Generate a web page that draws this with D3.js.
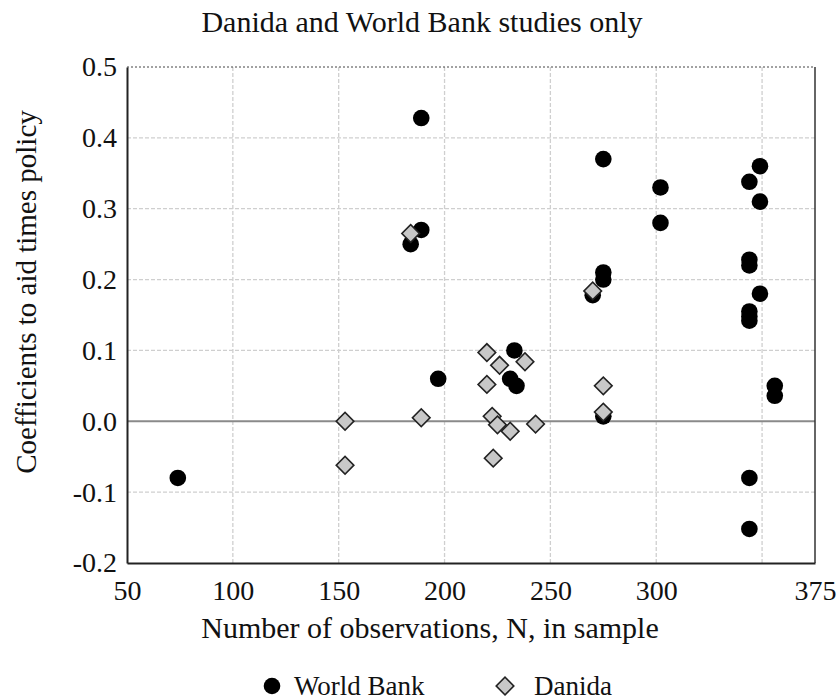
<!DOCTYPE html>
<html>
<head>
<meta charset="utf-8">
<script src="https://cdn.jsdelivr.net/npm/d3@7"></script>
<style>
  body { margin: 0; background: #fff; }
</style>
</head>
<body>
<div id="chart"></div>
<script>
// World Bank studies: N and coefficient
const worldBankN = [74, 184, 189, 189, 197, 231, 233, 234, 270, 275, 275, 275, 275, 302, 302,
  344, 349, 349, 344, 344, 349, 344, 344, 344, 356, 356, 344, 344];
const worldBankCoef = [-0.08, 0.25, 0.428, 0.27, 0.06, 0.06, 0.1, 0.05, 0.178, 0.37, 0.21, 0.2, 0.007, 0.33, 0.28,
  0.338, 0.36, 0.31, 0.228, 0.22, 0.18, 0.155, 0.148, 0.142, 0.05, 0.036, -0.08, -0.152];

// Danida studies
const danidaN = [153, 153, 184, 189, 220, 220, 222.5, 225, 223, 226, 231, 238, 243, 270, 275, 275];
const danidaCoef = [0.0, -0.062, 0.265, 0.005, 0.097, 0.052, 0.007, -0.005, -0.052, 0.079, -0.014, 0.084, -0.004, 0.184, 0.05, 0.013];

const xTicks = [50, 100, 150, 200, 250, 300, 375];
const xGrid = [100, 150, 200, 250, 300, 350];
const yTicks = [-0.2, -0.1, 0.0, 0.1, 0.2, 0.3, 0.4, 0.5];

const W = 840, H = 700;
const margin = { left: 127, right: 25, top: 67, bottom: 137 };
const FONT = '"Liberation Serif", "Times New Roman", serif';

const svg = d3.select('#chart').append('svg')
  .attr('width', W).attr('height', H);

const x = d3.scaleLinear().domain([50, 375]).range([margin.left, W - margin.right]);
const y = d3.scaleLinear().domain([-0.2, 0.5]).range([H - margin.bottom, margin.top]);

// grid
svg.append('g').selectAll('line')
  .data(xGrid).enter().append('line')
  .attr('x1', d => x(d)).attr('x2', d => x(d))
  .attr('y1', y(0.5)).attr('y2', y(-0.2))
  .attr('stroke', '#cfcfcf').attr('stroke-width', 1.3).attr('stroke-dasharray', '4,2');

svg.append('g').selectAll('line')
  .data(yTicks.filter(d => d > -0.2 && d < 0.5 && d !== 0)).enter().append('line')
  .attr('x1', x(50)).attr('x2', x(375))
  .attr('y1', d => y(d)).attr('y2', d => y(d))
  .attr('stroke', '#cfcfcf').attr('stroke-width', 1.3).attr('stroke-dasharray', '4,2');

// zero line
svg.append('line')
  .attr('x1', x(50)).attr('x2', x(375))
  .attr('y1', y(0)).attr('y2', y(0))
  .attr('stroke', '#8a8a8a').attr('stroke-width', 2);

// top border dotted, right border solid
svg.append('line')
  .attr('x1', x(50)).attr('x2', x(375))
  .attr('y1', y(0.5)).attr('y2', y(0.5))
  .attr('stroke', '#444').attr('stroke-width', 1).attr('stroke-dasharray', '2,2');
svg.append('line')
  .attr('x1', x(375)).attr('x2', x(375))
  .attr('y1', y(0.5)).attr('y2', y(-0.2))
  .attr('stroke', '#333').attr('stroke-width', 1.5);

// axes
const xAxis = d3.axisBottom(x).tickValues(xTicks).tickSize(0).tickPadding(17).tickFormat(d3.format('d'));
const yAxis = d3.axisLeft(y).tickValues(yTicks).tickSize(0).tickPadding(10)
  .tickFormat(d => d3.format('.1f')(d).replace('−', '-'));

const gx = svg.append('g').attr('transform', `translate(0,${y(-0.2)})`).call(xAxis);
const gy = svg.append('g').attr('transform', `translate(${x(50)},0)`).call(yAxis);
[gx, gy].forEach(g => {
  g.attr('font-family', FONT).attr('font-size', 28);
  g.select('.domain').attr('stroke', '#222').attr('stroke-width', 2);
  g.selectAll('text').attr('fill', '#111');
});
gx.selectAll('text').attr('dy', '0.71em');

// World Bank dots
svg.append('g').selectAll('circle')
  .data(worldBankN.map((n, i) => [n, worldBankCoef[i]])).enter().append('circle')
  .attr('cx', d => x(d[0])).attr('cy', d => y(d[1]))
  .attr('r', 8.3).attr('fill', '#000');

// Danida diamonds
const diamond = d3.symbol().type(d3.symbolSquare).size(155);
svg.append('g').selectAll('path')
  .data(danidaN.map((n, i) => [n, danidaCoef[i]])).enter().append('path')
  .attr('d', diamond)
  .attr('transform', d => `translate(${x(d[0])},${y(d[1])}) rotate(45)`)
  .attr('fill', '#c8c8c8').attr('stroke', '#222').attr('stroke-width', 1.6);

// titles
svg.append('text')
  .attr('x', 422).attr('y', 32)
  .attr('text-anchor', 'middle')
  .attr('font-family', FONT).attr('font-size', 30).attr('fill', '#111')
  .text('Danida and World Bank studies only');

svg.append('text')
  .attr('x', 430).attr('y', 638)
  .attr('text-anchor', 'middle')
  .attr('font-family', FONT).attr('font-size', 30).attr('fill', '#111')
  .text('Number of observations, N, in sample');

svg.append('text')
  .attr('transform', 'translate(36,292) rotate(-90)')
  .attr('text-anchor', 'middle')
  .attr('font-family', FONT).attr('font-size', 29).attr('fill', '#111')
  .text('Coefficients to aid times policy');

// legend
const legend = svg.append('g').attr('transform', 'translate(0,686)');
legend.append('circle').attr('cx', 272).attr('cy', 0).attr('r', 8.3).attr('fill', '#000');
legend.append('text').attr('x', 294).attr('y', 0).attr('dy', '0.33em')
  .attr('font-family', FONT).attr('font-size', 27).attr('fill', '#111').text('World Bank');
legend.append('path').attr('d', diamond)
  .attr('transform', 'translate(505,0) rotate(45)')
  .attr('fill', '#c8c8c8').attr('stroke', '#222').attr('stroke-width', 1.6);
legend.append('text').attr('x', 534).attr('y', 0).attr('dy', '0.33em')
  .attr('font-family', FONT).attr('font-size', 27).attr('fill', '#111').text('Danida');
</script>
</body>
</html>
